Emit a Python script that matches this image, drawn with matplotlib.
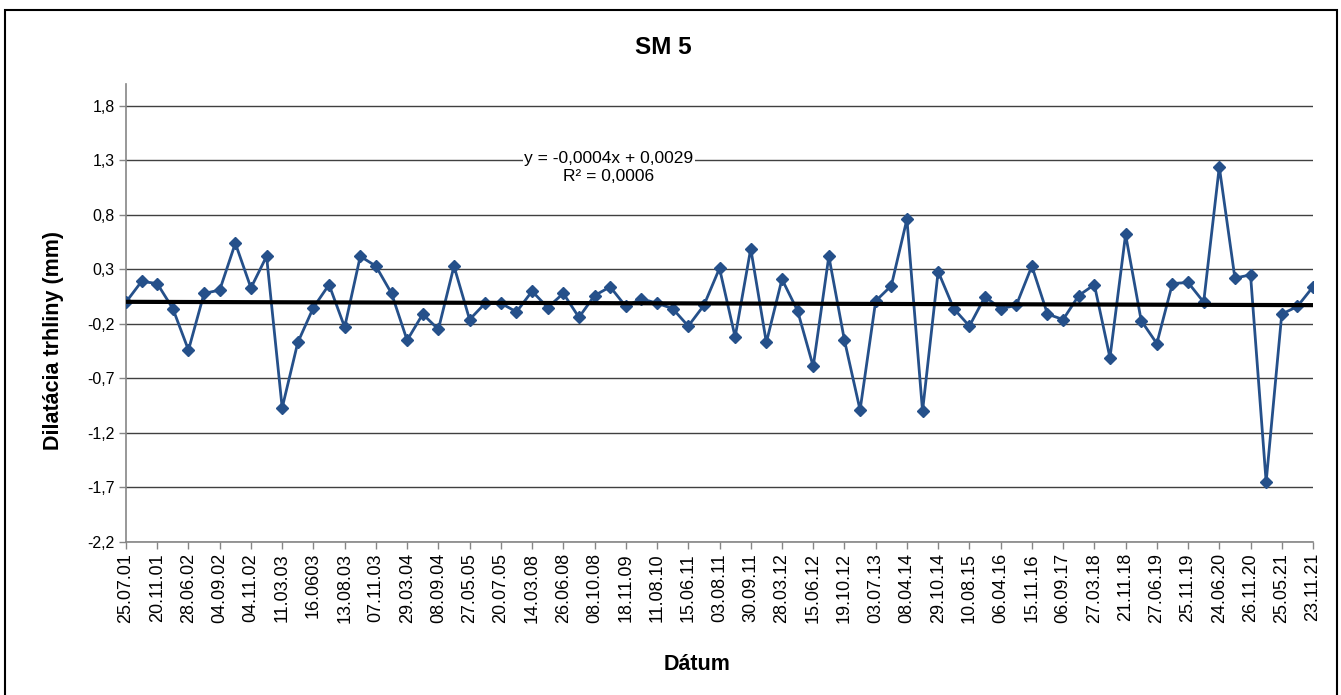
import numpy as np
import matplotlib.pyplot as plt
from matplotlib.patches import Rectangle

plt.rcParams["font.family"] = ["Liberation Sans", "DejaVu Sans"]

# hodnoty dilatácie (mm) pre každé meranie
dilatacia = [
    0.00, 0.19, 0.17, -0.06, -0.44, 0.08, 0.11, 0.54, 0.13, 0.42,
    -0.97, -0.37, -0.05, 0.16, -0.23, 0.42, 0.33, 0.08, -0.35, -0.11,
    -0.25, 0.33, -0.16, -0.01, -0.01, -0.09, 0.10, -0.05, 0.08, -0.14,
    0.06, 0.14, -0.04, 0.03, -0.01, -0.06, -0.22, -0.03, 0.31, -0.32,
    0.49, -0.37, 0.21, -0.08, -0.59, 0.42, -0.35, -0.99, 0.01, 0.15,
    0.76, -1.00, 0.28, -0.06, -0.22, 0.05, -0.06, -0.03, 0.33, -0.11,
    -0.16, 0.06, 0.16, -0.51, 0.62, -0.17, -0.38, 0.17, 0.18, 0.00,
    1.24, 0.22, 0.25, -1.65, -0.11, -0.04, 0.14,
]

# popisky osi x (každé druhé meranie)
datumy = [
    "25.07.01", "20.11.01", "28.06.02", "04.09.02", "04.11.02", "11.03.03",
    "16.0603", "13.08.03", "07.11.03", "29.03.04", "08.09.04", "27.05.05",
    "20.07.05", "14.03.08", "26.06.08", "08.10.08", "18.11.09", "11.08.10",
    "15.06.11", "03.08.11", "30.09.11", "28.03.12", "15.06.12", "19.10.12",
    "03.07.13", "08.04.14", "29.10.14", "10.08.15", "06.04.16", "15.11.16",
    "06.09.17", "27.03.18", "21.11.18", "27.06.19", "25.11.19", "24.06.20",
    "26.11.20", "25.05.21", "23.11.21",
]

# lineárny trend ako v Exceli (x = 1, 2, ...)
TREND_K = -0.0004
TREND_Q = 0.0029
TREND_R2 = 0.0006

y_ticks = [-2.2, -1.7, -1.2, -0.7, -0.2, 0.3, 0.8, 1.3, 1.8]


def main():
    fig = plt.figure(figsize=(13.41, 6.95), dpi=100)
    ax = fig.add_axes([126 / 1341, 1 - 542 / 695, (1313 - 126) / 1341, (542 - 84) / 695])

    n = len(dilatacia)
    x = np.arange(n)

    ax.set_axisbelow(True)
    ax.grid(True, axis="y", color="#404040", linewidth=1)

    ax.plot(x, dilatacia, color="#25508A", linewidth=2, marker="D",
            markersize=6.5, zorder=3)

    trend = TREND_K * (x + 1) + TREND_Q
    ax.plot(x, trend, color="black", linewidth=3, zorder=4)

    ax.set_xlim(0, n - 1)
    ax.set_ylim(-2.2, 2.0)
    ax.set_yticks(y_ticks)
    ax.set_yticklabels([f"{v:.1f}".replace(".", ",") for v in y_ticks], fontsize=11.5)

    ax.set_xticks(x[::2])
    ax.set_xticklabels(datumy, rotation=90, fontsize=13)

    for side in ["top", "right"]:
        ax.spines[side].set_visible(False)
    for side in ["left", "bottom"]:
        ax.spines[side].set_color("#868686")
        ax.spines[side].set_linewidth(1.2)
    ax.tick_params(axis="both", color="#868686", length=5, width=1, pad=3)

    # rovnica trendu - ako popis v Exceli
    ax.text(30.9, 1.32,
            f"y = {TREND_K:.4f}x + {TREND_Q:.4f}".replace(".", ","),
            ha="center", va="center", fontsize=12.5,
            bbox=dict(facecolor="white", edgecolor="none", pad=1), zorder=5)
    ax.text(30.9, 1.148,
            f"R² = {TREND_R2:.4f}".replace(".", ","),
            ha="center", va="center", fontsize=12.5, zorder=5)

    fig.text(663 / 1341, 1 - 48 / 695, "SM 5", ha="center", va="center",
             fontsize=17.5, fontweight="bold")
    fig.text(54 / 1341, 1 - 340 / 695, "Dilatácia trhliny (mm)", ha="center",
             va="center", rotation=90, fontsize=15.5, fontweight="bold")
    fig.text(697 / 1341, 1 - 665 / 695, "Dátum", ha="center", va="center",
             fontsize=15.5, fontweight="bold")

    fig.patches.append(Rectangle((5 / 1341, -0.05), (1337 - 5) / 1341, 1.05 - 10 / 695,
                                 transform=fig.transFigure, fill=False,
                                 edgecolor="black", linewidth=1.5))

    fig.savefig("out.png", dpi=100)
    plt.close(fig)


if __name__ == "__main__":
    main()
